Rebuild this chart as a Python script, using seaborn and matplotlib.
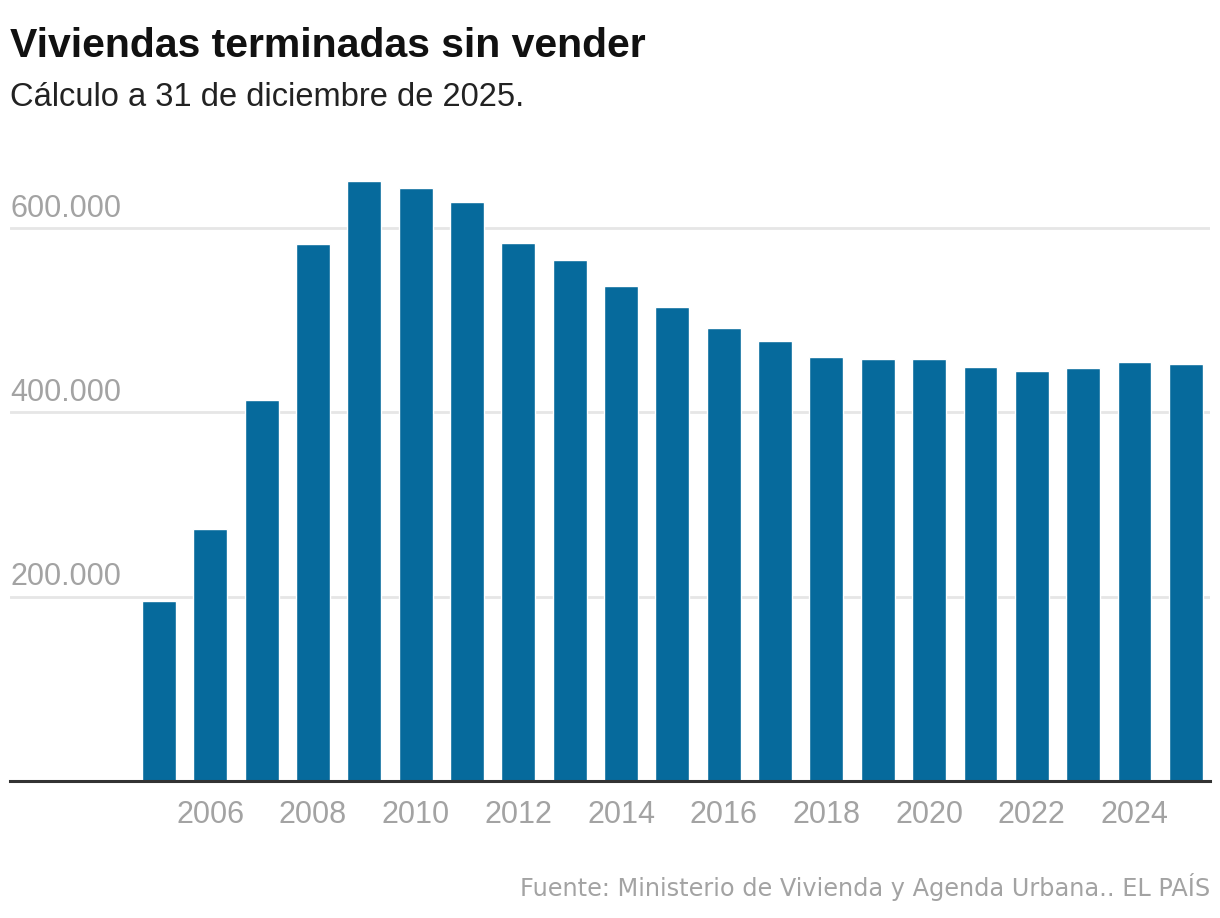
import matplotlib
matplotlib.use("Agg")
import matplotlib.pyplot as plt
import matplotlib.transforms as mtransforms
import pandas as pd
import seaborn as sns

# datos
anios = list(range(2005, 2026))
viviendas = [195000, 273000, 414000, 583000, 651000, 644000, 628000, 584000,
             565000, 537000, 514000, 492000, 477000, 460000, 458000, 458000,
             449000, 445000, 448000, 455000, 453000]
y_ticks = [200000, 400000, 600000]
y_labels = ["200.000", "400.000", "600.000"]
x_labels = [str(a) for a in range(2006, 2025, 2)]

azul = "#066a9c"
gris = "#a3a3a3"

df = pd.DataFrame({"anio": anios, "viviendas": viviendas})

sns.set_style("white")
plt.rcParams["font.family"] = ["Liberation Sans", "DejaVu Sans"]

fig = plt.figure(figsize=(12.2, 9.18), dpi=100)
ax = fig.add_axes([10 / 1220, 137 / 918, 1200 / 1220, 610 / 918])

sns.barplot(data=df, x="anio", y="viviendas", color=azul, width=0.66,
            saturation=1, ax=ax)

ax.set_xlim(-2.9, 20.47)
ax.set_ylim(0, 662000)

# rejilla horizontal
for t in y_ticks:
    ax.axhline(t, color="#e6e6e6", lw=2, zorder=0)
ax.set_yticks([])
trans = mtransforms.blended_transform_factory(ax.transAxes, ax.transData)
for t, lab in zip(y_ticks, y_labels):
    ax.text(0, t + 5000, lab, transform=trans, ha="left", va="bottom",
            fontsize=22, color=gris)

# etiquetas del eje x cada dos anios
pos = [anios.index(int(l)) for l in x_labels]
ax.set_xticks(pos)
ax.set_xticklabels(x_labels, fontsize=22, color=gris)
ax.tick_params(axis="x", length=0, pad=14)
ax.set_xlabel("")
ax.set_ylabel("")

sns.despine(ax=ax, left=True, right=True, top=True)
ax.spines["bottom"].set_color("#333333")
ax.spines["bottom"].set_linewidth(2.2)

fig.text(10 / 1220, 1 - 57 / 918, "Viviendas terminadas sin vender",
         fontsize=29.5, fontweight="bold", color="#111111", ha="left",
         va="baseline")
fig.text(10 / 1220, 1 - 106 / 918, "Cálculo a 31 de diciembre de 2025.",
         fontsize=23.5, color="#222222", ha="left", va="baseline")
fig.text(1210 / 1220, 1 - 896 / 918,
         "Fuente: Ministerio de Vivienda y Agenda Urbana.. EL PAÍS",
         fontsize=17.3, color=gris, ha="right", va="baseline",
         family=["DejaVu Sans"])

fig.savefig("out.png", dpi=100)
